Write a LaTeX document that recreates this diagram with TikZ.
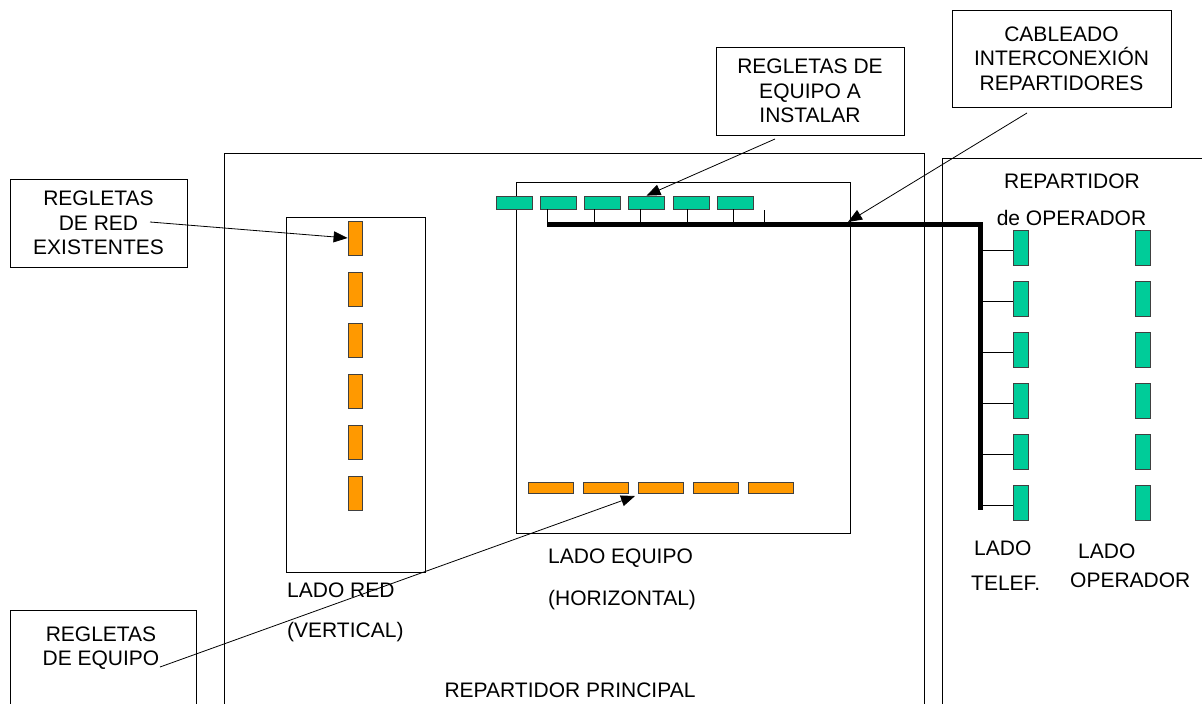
\documentclass[tikz,border=0pt]{standalone}
\usepackage{fontspec}
\setmainfont{Liberation Sans}
\usetikzlibrary{arrows.meta}
\definecolor{rorange}{HTML}{FF9900}
\definecolor{rgreen}{HTML}{00CC99}
\begin{document}
\begin{tikzpicture}[x=1pt,y=-1pt,
  txt/.style={font=\fontsize{21}{24.5}\selectfont, inner sep=0pt, align=center},
  lbox/.style={txt, draw, line width=0.9pt},
  frame/.style={draw, line width=0.9pt, inner sep=0pt, anchor=north west},
  regleta/.style={draw=black!75, line width=0.8pt, inner sep=0pt},
  orv/.style={regleta, fill=rorange, minimum width=14pt, minimum height=34pt},
  orh/.style={regleta, fill=rorange, minimum width=45pt, minimum height=11pt},
  grh/.style={regleta, fill=rgreen, minimum width=36pt, minimum height=13pt},
  grv/.style={regleta, fill=rgreen, minimum width=15pt, minimum height=35pt},
  thinline/.style={line width=0.8pt},
  bus/.style={line width=5pt},
  arr/.style={line width=0.8pt, -{Triangle[length=14pt,width=11pt]}},
]
\useasboundingbox (0,0) rectangle (1202,704);
\clip (0,0) rectangle (1202,704);

% frames
\node[frame, minimum width=700pt, minimum height=600pt] (mainf) at (224,153) {};
\node[frame, minimum width=300pt, minimum height=600pt] (operf) at (942,158) {};
\node[frame, minimum width=139pt, minimum height=355pt] (redf) at (286,217) {};
\node[frame, minimum width=334pt, minimum height=351pt] (equf) at (516,182) {};

% label boxes
\node[lbox, minimum width=177pt, minimum height=88pt] (lexist) at (98.5,223) {REGLETAS\\DE RED\\EXISTENTES};
\node[frame, minimum width=186pt, minimum height=110pt] (leqbox) at (10,610) {};
\node[txt] (leq) at (101,648) {REGLETAS\\DE EQUIPO};
\node[lbox, minimum width=188pt, minimum height=88pt] (linst) at (810,91) {REGLETAS DE\\EQUIPO A\\INSTALAR};
\node[lbox, minimum width=219pt, minimum height=97pt] (lcab) at (1061.5,58.5) {CABLEADO\\INTERCONEXIÓN\\REPARTIDORES};

% texts
\node[txt, anchor=west] (tladored) at (287,590) {LADO RED};
\node[txt, anchor=west] (tvert) at (287,632) {(VERTICAL)};
\node[txt, anchor=west] (tladoeq) at (548,558) {LADO EQUIPO};
\node[txt, anchor=west] (thoriz) at (548,600) {(HORIZONTAL)};
\node[txt] (tprinc) at (570,690) {REPARTIDOR PRINCIPAL};
\node[txt] (trep) at (1072,181) {REPARTIDOR};
\node[txt] (toper) at (1071.5,218) {de OPERADOR};
\node[txt, anchor=west] (tlado1) at (974,548) {LADO};
\node[txt, anchor=west] (ttelef) at (971,583) {TELEF.};
\node[txt, anchor=west] (tlado2) at (1078,551) {LADO};
\node[txt, anchor=west] (toperad) at (1070,580) {OPERADOR};

% bus
\coordinate (busL) at (547,224.5);
\coordinate (busC) at (980,224.5);
\coordinate (busB) at (980,510);
\draw[bus] (busL) -- (busC) -- (busB);

% orange vertical regletas
\foreach \i/\y in {1/238,2/289,3/340,4/391,5/442,6/493}
  \node[orv] (rv\i) at (355,\y) {};
% orange horizontal regletas
\foreach \i/\x in {1/550.5,2/605.5,3/660.5,4/715.5,5/770.5}
  \node[orh] (rh\i) at (\x,488) {};
% green horizontal regletas
\foreach \i/\x in {1/514,2/558.5,3/602,4/646.5,5/691.5,6/735.5}
  \node[grh] (gh\i) at (\x,202.5) {};
% green vertical regletas
\foreach \i/\y in {1/247.5,2/298.5,3/349.5,4/400.5,5/451.5,6/502.5}{
  \node[grv] (tv\i) at (1020.5,\y) {};
  \node[grv] (ov\i) at (1142.5,\y) {};
}

% stubs from green horizontal regletas to bus
\foreach \i/\s in {2/-11.5,3/-8,4/-6.5,5/-4.5,6/-2.5}
  \draw[thinline] ([xshift=\s pt]gh\i.south) -- ([xshift=\s pt]gh\i.south |- busL);
\coordinate (xs1) at (764,210);
\coordinate (xs2) at (764,224);
\draw[thinline] (xs1) -- (xs2);

% stubs from bus to telef regletas
\foreach \i in {1,...,6}
  \draw[thinline] ([yshift=-2.5pt]tv\i.west) -- ([yshift=-2.5pt]tv\i.west -| busC);

% arrows
\coordinate (a1s) at (150,222);
\draw[arr] (a1s) -- (rv1.west);
\coordinate (a2s) at (160,667);
\coordinate (a2t) at (635,496);
\draw[arr] (a2s) -- (a2t);
\coordinate (a3s) at (775,139);
\draw[arr] (a3s) -- (gh4.north);
\coordinate (a4s) at (1027,113);
\coordinate (a4t) at (848,222);
\draw[arr] (a4s) -- (a4t);
\end{tikzpicture}
\end{document}
